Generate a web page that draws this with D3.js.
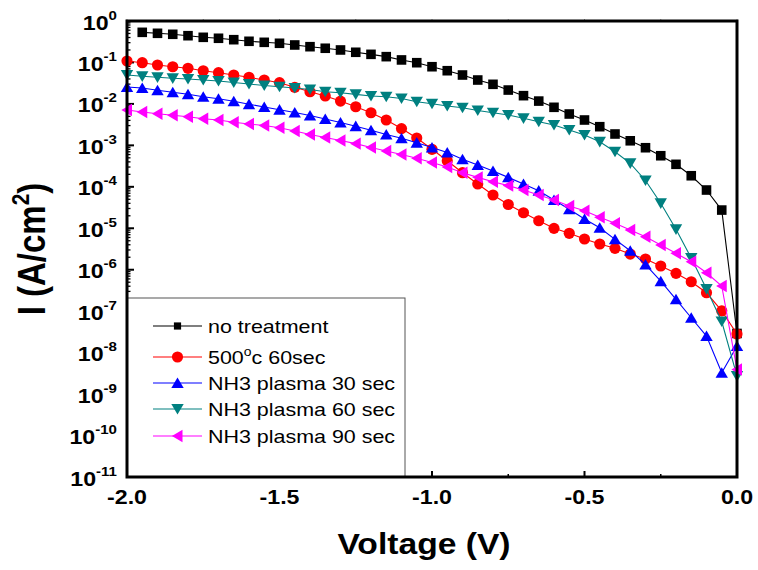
<!DOCTYPE html>
<html><head><meta charset="utf-8">
<script src="https://cdn.jsdelivr.net/npm/d3@7"></script>
<style>
body{margin:0;background:#fff}
svg{display:block}
text{font-family:"Liberation Sans",Arial,Helvetica,sans-serif;fill:#000}
</style>
</head><body>
<svg id="c" width="758" height="570"></svg>
<script>
// ---------- data ----------
const voltage = [-2.00,-1.95,-1.90,-1.85,-1.80,-1.75,-1.70,-1.65,-1.60,-1.55,
  -1.50,-1.45,-1.40,-1.35,-1.30,-1.25,-1.20,-1.15,-1.10,-1.05,
  -1.00,-0.95,-0.90,-0.85,-0.80,-0.75,-0.70,-0.65,-0.60,-0.55,
  -0.50,-0.45,-0.40,-0.35,-0.30,-0.25,-0.20,-0.15,-0.10,-0.05,0.00];

const seriesNames = ["no treatment","500°c 60sec","NH3 plasma 30 sec","NH3 plasma 60 sec","NH3 plasma 90 sec"];

const noTreatment = [null,0.533,0.505,0.478,0.442,0.404,0.383,0.354,0.324,0.306,
  0.290,0.264,0.240,0.220,0.200,0.176,0.157,0.138,0.115,0.0986,
  0.0789,0.0632,0.0498,0.0377,0.0297,0.0216,0.0158,0.0117,0.00828,0.00571,
  0.00409,0.00282,0.00188,0.00129,8.77e-4,5.62e-4,3.49e-4,1.85e-4,8.37e-5,2.75e-5,2.9e-8];

const anneal500 = [0.108,0.0986,0.0868,0.0789,0.0722,0.0632,0.0566,0.0498,0.0438,0.0377,
  0.0325,0.0251,0.0197,0.0155,0.0117,0.00855,0.00613,0.00409,0.00254,0.00150,
  8.03e-4,4.26e-4,2.19e-4,1.17e-4,6.34e-5,3.74e-5,2.37e-5,1.52e-5,9.97e-6,7.56e-6,
  5.50e-6,4.17e-6,3.28e-6,2.39e-6,1.81e-6,1.23e-6,8.18e-7,5.13e-7,2.78e-7,1.02e-7,2.81e-8];

const plasma30 = [0.0256,0.0242,0.0213,0.0191,0.0171,0.0149,0.0133,0.0116,0.00984,0.00842,
  0.00724,0.00621,0.00525,0.00432,0.00356,0.00290,0.00231,0.00183,0.00148,0.00116,
  8.87e-4,6.73e-4,4.61e-4,3.36e-4,2.40e-4,1.69e-4,1.17e-4,8.05e-5,4.81e-5,2.87e-5,
  1.67e-5,1.03e-5,5.41e-6,2.87e-6,1.33e-6,5.28e-7,1.93e-7,6.95e-8,2.51e-8,3.27e-9,1.44e-8];

const plasma60 = [0.0498,0.0463,0.0438,0.0415,0.0399,0.0377,0.0357,0.0328,0.0302,0.0278,
  0.0260,0.0242,0.0223,0.0197,0.0186,0.0170,0.0155,0.0149,0.0135,0.0113,
  0.0101,0.00890,0.00810,0.00693,0.00613,0.00540,0.00449,0.00372,0.00310,0.00235,
  0.00178,0.00122,7.03e-4,3.69e-4,1.42e-4,4.00e-5,9.44e-6,1.91e-6,3.42e-7,5.63e-8,2.72e-9];

const plasma90 = [0.00713,0.00638,0.00581,0.00531,0.00491,0.00440,0.00409,0.00362,0.00327,0.00301,
  0.00265,0.00222,0.00183,0.00155,0.00131,0.00110,8.87e-4,7.31e-4,6.01e-4,4.90e-4,
  3.86e-4,3.00e-4,2.19e-4,1.69e-4,1.33e-4,1.07e-4,8.37e-5,6.34e-5,4.81e-5,3.44e-5,
  2.65e-5,1.84e-5,1.32e-5,9.07e-6,6.25e-6,3.94e-6,2.49e-6,1.56e-6,8.45e-7,4.05e-7,3.91e-9];

const xTickValues = [-2.0,-1.5,-1.0,-0.5,0.0];
const xMinorValues = [-1.75,-1.25,-0.75,-0.25];
const yExponents = [0,-1,-2,-3,-4,-5,-6,-7,-8,-9,-10,-11];

// ---------- styles ----------
const colors = ["#000000","#ff0000","#0000ff","#008080","#ff00ff"];
const markers = ["square","circle","up","down","left"];
const SX = 1.16; // horizontal text stretch seen in reference

const svg = d3.select("#c");
const L = 127, R = 737, T = 21, B = 477;
const x = d3.scaleLinear().domain([-2, 0]).range([L, R]);
const y = d3.scaleLog().domain([1e-11, 1]).range([B, T]);

function markerPath(type){
  switch(type){
    case "square": return d3.symbol(d3.symbolSquare, 92)();
    case "circle": return d3.symbol(d3.symbolCircle, 98)();
    case "up": return "M0,-5.6L6.2,5L-6.2,5Z";
    case "down": return "M0,5.6L6.2,-5L-6.2,-5Z";
    case "left": return "M-5.6,0L5,-6.2L5,6.2Z";
  }
}

const allSeries = [noTreatment, anneal500, plasma30, plasma60, plasma90];

// ---------- axis ticks (under legend) ----------
const tickG = svg.append("g");
yExponents.forEach(e => {
  const v = Math.pow(10, e);
  tickG.append("line").attr("x1", L).attr("x2", L + 7)
    .attr("y1", y(v)).attr("y2", y(v)).attr("stroke", "#000").attr("stroke-width", 2);
  if (e > -11) {
    for (let k = 2; k <= 9; k++) {
      const vv = k * Math.pow(10, e - 1);
      tickG.append("line").attr("x1", L).attr("x2", L + 3.5)
        .attr("y1", y(vv)).attr("y2", y(vv)).attr("stroke", "#000").attr("stroke-width", 1.3);
    }
  }
});
xTickValues.forEach(v => {
  tickG.append("line").attr("x1", x(v)).attr("x2", x(v)).attr("y1", B).attr("y2", B - 6)
    .attr("stroke", "#000").attr("stroke-width", 2);
});
xMinorValues.forEach(v => {
  tickG.append("line").attr("x1", x(v)).attr("x2", x(v)).attr("y1", B).attr("y2", B - 3)
    .attr("stroke", "#000").attr("stroke-width", 1.5);
});
xTickValues.concat(xMinorValues).forEach(v => {
  tickG.append("line").attr("x1", x(v)).attr("x2", x(v)).attr("y1", T).attr("y2", T - 2)
    .attr("stroke", "#999").attr("stroke-width", 1);
});

// ---------- data ----------
const dataG = svg.append("g");
allSeries.forEach((vals, si) => {
  const pts = voltage.map((v, i) => ({v, c: vals[i]})).filter(d => d.c != null);
  const line = d3.line().x(d => x(d.v)).y(d => y(d.c));
  dataG.append("path").attr("d", line(pts)).attr("fill", "none")
    .attr("stroke", colors[si]).attr("stroke-width", 1.1);
  dataG.selectAll(null).data(pts).enter().append("path")
    .attr("d", markerPath(markers[si]))
    .attr("transform", d => `translate(${x(d.v)},${y(d.c)})`)
    .attr("fill", colors[si]);
});

// ---------- legend ----------
const lg = svg.append("g");
lg.append("rect").attr("x", L).attr("y", 298).attr("width", 405 - L).attr("height", B - 298)
  .attr("fill", "#fff").attr("stroke", "#555").attr("stroke-width", 1);
const rowY = [326, 357, 383, 409, 436];
seriesNames.forEach((name, i) => {
  const ry = rowY[i];
  lg.append("line").attr("x1", 153).attr("x2", 202).attr("y1", ry).attr("y2", ry)
    .attr("stroke", colors[i]).attr("stroke-width", 1.1);
  lg.append("path").attr("d", markerPath(markers[i]))
    .attr("transform", `translate(177.5,${ry})` + (i === 0 ? " scale(0.75)" : ""))
    .attr("fill", colors[i]);
  const t = lg.append("text").attr("transform", `translate(208,${ry + 6.8}) scale(${SX},1)`)
    .style("font-size", "18.5px");
  if (name.indexOf("°") >= 0) {
    const parts = name.split("°");
    t.append("tspan").text(parts[0]);
    t.append("tspan").text("o").style("font-size", "12px").attr("dy", -8);
    t.append("tspan").text(parts[1]).attr("dy", 8);
  } else {
    t.text(name);
  }
});

// ---------- frame ----------
svg.append("rect").attr("x", L).attr("y", T).attr("width", R - L).attr("height", B - T)
  .attr("fill", "none").attr("stroke", "#000").attr("stroke-width", 3);

// ---------- tick labels ----------
yExponents.forEach(e => {
  const t = svg.append("text")
    .attr("transform", `translate(117,${y(Math.pow(10, e)) + 8.5}) scale(${SX},1)`)
    .attr("text-anchor", "end").style("font-weight", "bold").style("font-size", "20px");
  t.append("tspan").text("10");
  t.append("tspan").text(String(e)).style("font-size", "13px").attr("dy", -10);
});
xTickValues.forEach(v => {
  svg.append("text").attr("transform", `translate(${x(v)},504) scale(${SX},1)`)
    .attr("text-anchor", "middle").style("font-weight", "bold").style("font-size", "20px")
    .text(d3.format(".1f")(v).replace("−", "-"));
});

// ---------- axis titles ----------
svg.append("text").attr("transform", `translate(424,554) scale(${SX},1)`)
  .attr("text-anchor", "middle").style("font-weight", "bold").style("font-size", "29px")
  .text("Voltage (V)");
const yt = svg.append("text").attr("transform", `translate(45,249) scale(${SX},1) rotate(-90)`)
  .attr("text-anchor", "middle").style("font-weight", "bold").style("font-size", "33px");
yt.append("tspan").text("I (A/cm");
yt.append("tspan").text("2").style("font-size", "21px").attr("dy", -14);
yt.append("tspan").text(")").attr("dy", 14);
</script>
</body></html>
